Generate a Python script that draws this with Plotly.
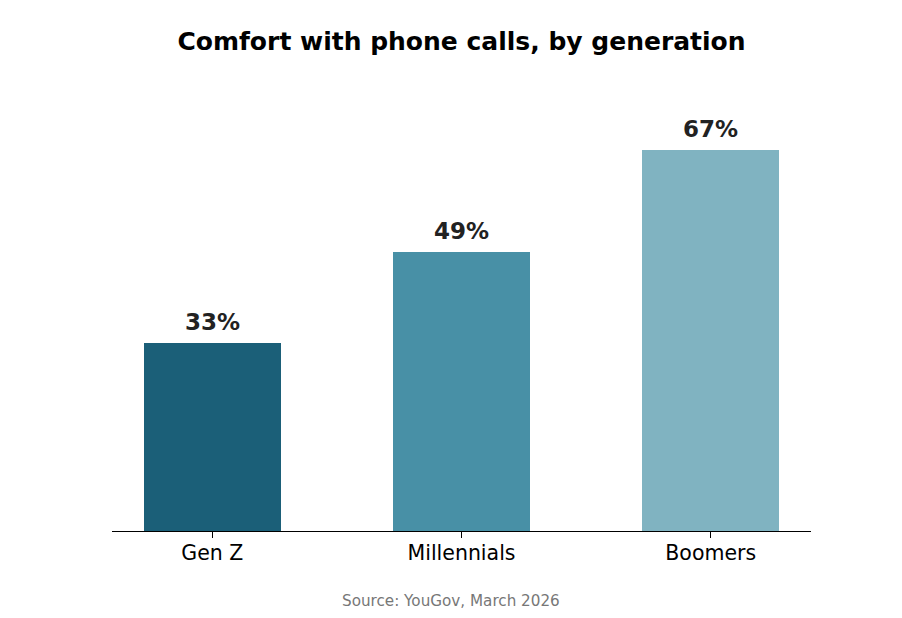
import plotly.graph_objects as go

# dados
geracoes = ['Gen Z', 'Millennials', 'Boomers']
conforto = [33, 49, 67]
rotulos = ['33%', '49%', '67%']
cores = ['#1b5f78', '#4890a6', '#80b3c1']

fonte = 'DejaVu Sans'

# a página tem 8px de margem no body, então a figura fica um pouco menor
fig = go.Figure()
fig.add_trace(go.Bar(
    x=list(range(len(geracoes))), y=conforto,
    width=0.55,
    marker=dict(color=cores, line=dict(width=0)),
    hoverinfo='skip',
))

for i, (v, r) in enumerate(zip(conforto, rotulos)):
    fig.add_annotation(x=i, y=v, text='<b>' + r + '</b>', showarrow=False,
                       yanchor='middle', yshift=21,
                       font=dict(family=fonte, size=23, color='#222222'))

fig.update_layout(
    width=894, height=610,
    paper_bgcolor='white', plot_bgcolor='white',
    margin=dict(l=104, r=91, t=96, b=87),
    showlegend=False,
    title=dict(text='<b>Comfort with phone calls, by generation</b>',
               xref='paper', x=0.5, xanchor='center', y=1 - 33 / 610, yanchor='middle',
               font=dict(family=fonte, size=25, color='black')),
    xaxis=dict(range=[-0.4025, 2.4025], tickvals=list(range(len(geracoes))),
               ticktext=geracoes, showgrid=False, zeroline=False,
               showline=True, linecolor='black', linewidth=1.3,
               ticks='outside', ticklen=6, tickwidth=1.3, tickcolor='black',
               ticklabelstandoff=-3,
               tickfont=dict(family=fonte, size=20.5, color='black')),
    yaxis=dict(range=[0, 75], visible=False),
    bargap=0,
)

fig.add_annotation(text='Source: YouGov, March 2026', xref='paper', yref='paper',
                   x=(451 - 112) / 699, y=-(601 - 531) / 427,
                   xanchor='center', yanchor='middle',
                   showarrow=False, font=dict(family=fonte, size=15.2, color='#777777'))

fig.write_html('out.html')
